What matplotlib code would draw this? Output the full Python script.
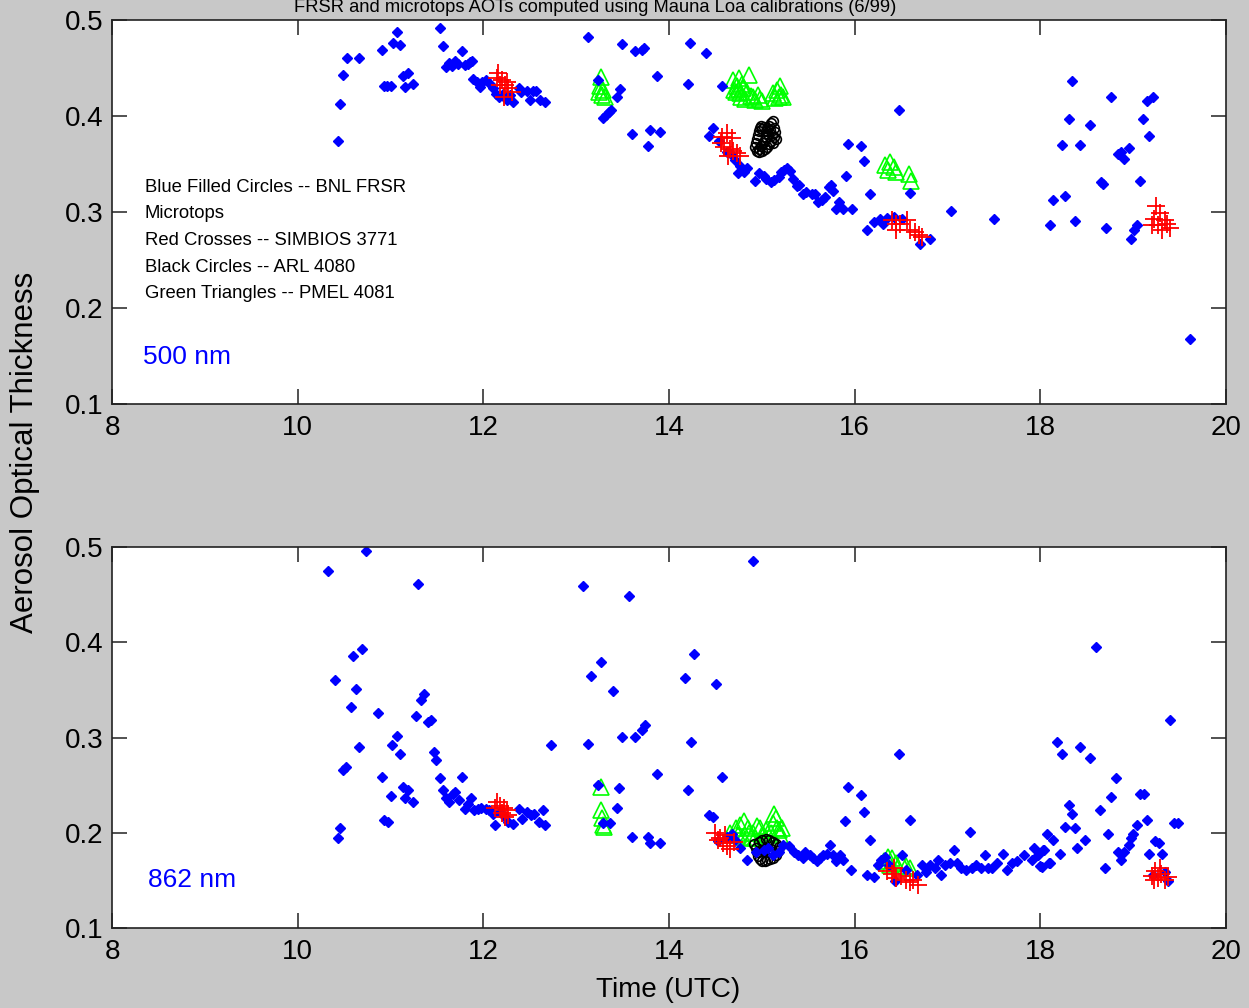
import matplotlib.pyplot as plt


# ---- 500 nm panel ----
frsr500_t = [10.43, 10.46, 10.49, 10.53, 10.66, 10.91, 10.93, 10.96, 11.00, 11.03, 11.07, 11.10,
             11.13, 11.16, 11.19, 11.24, 11.53, 11.57, 11.60, 11.63, 11.66, 11.70, 11.73, 11.77,
             11.80, 11.83, 11.86, 11.88, 11.89, 11.93, 11.96, 11.99, 12.03, 12.07, 12.10, 12.14,
             12.17, 12.21, 12.25, 12.29, 12.32, 12.38, 12.41, 12.47, 12.50, 12.54, 12.57, 12.61,
             12.66, 13.13, 13.23, 13.29, 13.32, 13.35, 13.38, 13.44, 13.47, 13.49, 13.60, 13.63,
             13.71, 13.73, 13.77, 13.80, 13.90, 13.87, 14.21, 14.23, 14.40, 14.57, 14.47, 14.43,
             14.54, 14.62, 14.67, 14.71, 14.76, 14.74, 14.81, 14.84, 14.93, 14.97, 15.02, 15.05,
             15.10, 15.13, 15.18, 15.21, 15.24, 15.27, 15.30, 15.34, 15.38, 15.40, 15.44, 15.48,
             15.54, 15.57, 15.61, 15.65, 15.68, 15.72, 15.74, 15.77, 15.80, 15.83, 15.87, 15.91,
             15.93, 15.97, 16.07, 16.10, 16.13, 16.17, 16.21, 16.27, 16.30, 16.35, 16.42, 16.48,
             16.51, 16.60, 16.70, 16.81, 17.04, 17.50, 18.34, 18.76, 19.15, 19.21, 18.31, 18.54,
             19.11, 19.17, 18.23, 18.43, 18.84, 18.87, 18.90, 18.95, 18.65, 18.68, 19.07, 18.14,
             18.27, 18.10, 18.37, 18.71, 18.98, 19.01, 19.04, 19.61]
frsr500_aot = [0.374, 0.412, 0.443, 0.460, 0.460, 0.469, 0.431, 0.431, 0.431, 0.476, 0.487, 0.474,
               0.442, 0.430, 0.445, 0.433, 0.492, 0.473, 0.451, 0.455, 0.452, 0.457, 0.454, 0.468,
               0.453, 0.454, 0.456, 0.457, 0.439, 0.435, 0.430, 0.435, 0.437, 0.433, 0.429, 0.423,
               0.420, 0.423, 0.417, 0.422, 0.415, 0.429, 0.425, 0.426, 0.417, 0.426, 0.426, 0.417,
               0.415, 0.482, 0.437, 0.398, 0.401, 0.404, 0.406, 0.420, 0.428, 0.475, 0.381, 0.468,
               0.469, 0.471, 0.369, 0.385, 0.383, 0.442, 0.433, 0.476, 0.466, 0.431, 0.387, 0.379,
               0.374, 0.362, 0.360, 0.354, 0.348, 0.341, 0.342, 0.346, 0.332, 0.341, 0.337, 0.334,
               0.331, 0.333, 0.336, 0.342, 0.344, 0.346, 0.343, 0.334, 0.327, 0.328, 0.319, 0.321,
               0.319, 0.319, 0.310, 0.313, 0.316, 0.326, 0.328, 0.322, 0.303, 0.310, 0.303, 0.338,
               0.371, 0.303, 0.369, 0.353, 0.281, 0.319, 0.290, 0.293, 0.288, 0.294, 0.295, 0.406,
               0.293, 0.320, 0.267, 0.272, 0.301, 0.293, 0.436, 0.420, 0.416, 0.420, 0.397, 0.391,
               0.397, 0.379, 0.370, 0.370, 0.360, 0.362, 0.355, 0.367, 0.331, 0.329, 0.332, 0.312,
               0.317, 0.286, 0.291, 0.283, 0.272, 0.281, 0.286, 0.168]

simbios500_t = [12.16, 12.20, 12.23, 12.18, 12.27, 12.31, 12.22, 12.25, 12.15,
                14.57, 14.62, 14.68, 14.59, 14.66, 14.73, 14.64, 14.56, 14.76, 14.69,
                16.40, 16.44, 16.49, 16.56, 16.60, 16.65, 16.69, 16.72, 16.45,
                19.25, 19.22, 19.29, 19.34, 19.27, 19.40, 19.36, 19.20, 19.31]
simbios500_aot = [0.445, 0.437, 0.432, 0.432, 0.429, 0.425, 0.420, 0.435, 0.440,
                  0.378, 0.382, 0.377, 0.368, 0.366, 0.361, 0.358, 0.372, 0.358, 0.364,
                  0.292, 0.281, 0.288, 0.292, 0.281, 0.279, 0.276, 0.274, 0.288,
                  0.306, 0.293, 0.299, 0.292, 0.286, 0.283, 0.288, 0.286, 0.281]

arl500_t = [14.93, 14.94, 14.95, 14.96, 14.97, 14.98, 14.99, 14.95, 14.97, 14.99, 15.01, 15.03,
            15.05, 15.07, 15.00, 15.02, 15.04, 15.06, 15.08, 15.10, 15.12, 15.09, 15.11, 15.13,
            15.15, 15.12, 15.10, 15.08, 15.06, 15.03, 15.00, 14.97, 15.13, 15.14]
arl500_aot = [0.368, 0.372, 0.376, 0.380, 0.384, 0.388, 0.390, 0.364, 0.366, 0.369, 0.372, 0.375,
              0.378, 0.381, 0.386, 0.389, 0.384, 0.387, 0.390, 0.393, 0.395, 0.385, 0.380, 0.378,
              0.376, 0.372, 0.374, 0.371, 0.368, 0.366, 0.364, 0.362, 0.388, 0.383]

pmel500_t = [13.27, 13.26, 13.29, 13.28, 13.31, 13.25,
             14.69, 14.73, 14.77, 14.80, 14.86, 14.84, 14.96, 14.98, 15.12, 15.20, 15.18, 15.21,
             14.70, 14.91, 14.72, 14.75, 14.78, 14.82, 14.88, 14.93, 15.00, 15.14, 15.16, 15.23,
             14.79, 14.75,
             16.33, 16.38, 16.42, 16.36, 16.45, 16.58, 16.61]
pmel500_aot = [0.441, 0.431, 0.427, 0.422, 0.420, 0.425,
               0.437, 0.431, 0.424, 0.429, 0.443, 0.425, 0.422, 0.418, 0.424, 0.431, 0.420, 0.422,
               0.427, 0.420, 0.425, 0.428, 0.420, 0.418, 0.421, 0.417, 0.416, 0.419, 0.427, 0.420,
               0.433, 0.440,
               0.349, 0.352, 0.347, 0.344, 0.342, 0.340, 0.332]

# ---- 862 nm panel ----
frsr862_t = [10.33, 10.74, 11.30, 13.07, 13.57, 10.60, 10.69, 10.40, 10.63, 10.57, 10.86, 10.66,
             10.49, 10.52, 10.91, 11.02, 11.07, 11.10, 11.00, 11.13, 11.19, 11.16, 11.24, 10.93,
             10.97, 10.46, 10.43, 11.27, 11.33, 11.36, 11.40, 11.44, 11.47, 11.49, 11.53, 11.57,
             11.60, 11.63, 11.67, 11.70, 11.74, 11.77, 11.80, 11.83, 11.87, 11.90, 11.94, 11.98,
             12.03, 12.06, 12.10, 12.13, 12.18, 12.22, 12.27, 12.32, 12.38, 12.42, 12.47, 12.51,
             12.55, 12.60, 12.64, 12.66, 12.73, 13.13, 13.16, 13.27, 13.40, 13.49, 13.63, 13.71,
             13.74, 13.87, 13.46, 13.44, 13.24, 13.29, 13.36, 13.60, 13.77, 14.17, 14.27, 14.24,
             14.21, 13.80, 13.90, 14.51, 14.57, 14.90, 14.43, 14.47, 14.53, 14.62, 14.68, 14.71,
             14.76, 14.84, 14.94, 15.02, 15.07, 15.12, 15.18, 15.23, 15.29, 15.35, 15.39, 15.44,
             15.47, 15.52, 15.55, 15.59, 15.63, 15.66, 15.70, 15.73, 15.77, 15.80, 15.84, 15.87,
             15.90, 15.93, 15.96, 16.07, 16.10, 16.13, 16.17, 16.21, 16.25, 16.28, 16.33, 16.37,
             16.43, 16.48, 16.51, 16.55, 16.60, 16.67, 16.72, 16.77, 16.81, 16.87, 16.90, 16.93,
             16.97, 17.03, 17.07, 17.10, 17.15, 17.20, 17.24, 17.26, 17.31, 17.36, 17.40, 17.44,
             17.48, 17.53, 17.60, 17.64, 17.69, 17.75, 17.82, 17.91, 17.93, 17.98, 18.02, 18.04,
             18.07, 18.09, 18.00, 18.03, 18.60, 19.40, 18.18, 18.23, 18.43, 18.54, 18.81, 18.76,
             18.31, 18.34, 18.64, 19.07, 19.12, 18.27, 18.37, 18.14, 18.48, 18.40, 18.21, 18.10,
             18.73, 19.04, 19.15, 19.00, 18.98, 18.95, 18.90, 18.84, 18.87, 18.70, 19.24, 19.28,
             19.17, 19.31, 19.44, 19.48, 19.21, 19.34, 19.37]
frsr862_aot = [0.475, 0.496, 0.461, 0.459, 0.449, 0.386, 0.393, 0.360, 0.351, 0.332, 0.326, 0.290,
               0.266, 0.269, 0.259, 0.292, 0.302, 0.283, 0.239, 0.248, 0.245, 0.236, 0.232, 0.213,
               0.211, 0.205, 0.195, 0.323, 0.339, 0.346, 0.316, 0.318, 0.285, 0.276, 0.257, 0.245,
               0.236, 0.232, 0.241, 0.243, 0.234, 0.259, 0.225, 0.230, 0.236, 0.224, 0.225, 0.226,
               0.225, 0.224, 0.220, 0.208, 0.222, 0.218, 0.211, 0.209, 0.225, 0.214, 0.222, 0.219,
               0.220, 0.211, 0.224, 0.208, 0.292, 0.293, 0.365, 0.379, 0.349, 0.301, 0.301, 0.308,
               0.313, 0.262, 0.247, 0.226, 0.250, 0.210, 0.210, 0.196, 0.196, 0.362, 0.388, 0.295,
               0.245, 0.189, 0.189, 0.356, 0.259, 0.485, 0.219, 0.217, 0.191, 0.196, 0.199, 0.192,
               0.184, 0.171, 0.180, 0.182, 0.184, 0.177, 0.180, 0.187, 0.186, 0.180, 0.177, 0.173,
               0.180, 0.177, 0.173, 0.170, 0.173, 0.177, 0.178, 0.187, 0.177, 0.170, 0.177, 0.171,
               0.212, 0.248, 0.161, 0.240, 0.222, 0.156, 0.192, 0.154, 0.166, 0.171, 0.175, 0.166,
               0.149, 0.283, 0.177, 0.161, 0.213, 0.156, 0.166, 0.159, 0.166, 0.163, 0.171, 0.156,
               0.166, 0.168, 0.182, 0.168, 0.163, 0.161, 0.201, 0.163, 0.166, 0.163, 0.177, 0.163,
               0.163, 0.168, 0.178, 0.161, 0.168, 0.170, 0.177, 0.171, 0.184, 0.177, 0.164, 0.182,
               0.199, 0.168, 0.165, 0.182, 0.395, 0.318, 0.295, 0.283, 0.290, 0.278, 0.257, 0.238,
               0.229, 0.220, 0.224, 0.241, 0.241, 0.206, 0.205, 0.192, 0.192, 0.184, 0.178, 0.168,
               0.199, 0.208, 0.213, 0.199, 0.194, 0.187, 0.180, 0.180, 0.171, 0.163, 0.191, 0.189,
               0.178, 0.178, 0.210, 0.210, 0.156, 0.159, 0.149]

simbios862_t = [12.15, 12.18, 12.22, 12.25, 12.20, 12.27, 12.23, 12.13,
                14.50, 14.55, 14.58, 14.62, 14.66, 14.70, 14.53, 14.60,
                16.35, 16.40, 16.45, 16.50, 16.55, 16.60, 16.68, 16.63, 16.42,
                19.20, 19.24, 19.27, 19.30, 19.34, 19.37, 19.22, 19.29]
simbios862_aot = [0.232, 0.228, 0.226, 0.224, 0.221, 0.219, 0.217, 0.226,
                  0.200, 0.195, 0.189, 0.186, 0.183, 0.190, 0.192, 0.198,
                  0.160, 0.157, 0.152, 0.155, 0.150, 0.148, 0.145, 0.150, 0.163,
                  0.155, 0.160, 0.152, 0.157, 0.150, 0.154, 0.150, 0.163]

arl862_t = [14.92, 14.94, 14.95, 14.96, 14.98, 15.00, 15.03, 15.06, 15.09, 15.12, 15.15, 15.17,
            15.18, 14.97, 15.00, 15.04, 15.08, 15.12, 15.15, 15.02, 15.06, 15.10]
arl862_aot = [0.188, 0.184, 0.180, 0.176, 0.172, 0.170, 0.170, 0.171, 0.172, 0.174, 0.177, 0.181,
              0.185, 0.190, 0.192, 0.193, 0.192, 0.190, 0.188, 0.182, 0.180, 0.183]

pmel862_t = [13.27, 13.27, 13.28, 13.29, 13.30,
             14.66, 14.72, 14.77, 14.81, 14.85, 14.90, 14.95, 15.00, 15.05, 15.12, 15.15, 15.18,
             15.20, 14.88, 14.74, 14.80, 14.86, 14.93, 15.03, 15.10, 15.16, 15.22, 14.98, 15.13,
             16.32, 16.36, 16.40, 16.45, 16.50, 16.55, 16.60, 16.38]
pmel862_aot = [0.248, 0.224, 0.215, 0.208, 0.206,
               0.200, 0.205, 0.208, 0.212, 0.205, 0.200, 0.207, 0.198, 0.203, 0.210, 0.215, 0.203,
               0.198, 0.195, 0.198, 0.196, 0.200, 0.195, 0.195, 0.200, 0.205, 0.205, 0.205, 0.220,
               0.170, 0.175, 0.173, 0.168, 0.170, 0.165, 0.163, 0.166]

TITLE = "FRSR and microtops AOTs computed using Mauna Loa calibrations (6/99)"
LEGEND_LINES = ["Blue Filled Circles -- BNL FRSR",
                "Microtops",
                "Red Crosses -- SIMBIOS 3771",
                "Black Circles -- ARL 4080",
                "Green Triangles -- PMEL 4081"]

MAIN_FONT = ["Liberation Sans", "DejaVu Sans"]


def draw_panel(ax, frsr, simbios, arl, pmel):
    # draw order: triangles and circles underneath, diamonds, crosses on top
    ax.plot(*pmel, linestyle="none", marker="^", markersize=12,
            markerfacecolor="none", markeredgecolor="#00ff00", markeredgewidth=1.2)
    ax.plot(*arl, linestyle="none", marker="o", markersize=7,
            markerfacecolor="none", markeredgecolor="black", markeredgewidth=1.2)
    ax.plot(*frsr, linestyle="none", marker="D", markersize=5.5,
            color="#0000ff", markeredgecolor="#0000ff")
    ax.plot(*simbios, linestyle="none", marker="+", markersize=13,
            color="#ff0000", markeredgewidth=1.3)

    ax.set_xlim(8, 20)
    ax.set_ylim(0.1, 0.5)
    ax.set_xticks([8, 10, 12, 14, 16, 18, 20])
    ax.set_yticks([0.1, 0.2, 0.3, 0.4, 0.5])
    ax.set_yticklabels(["0.1", "0.2", "0.3", "0.4", "0.5"])
    ax.tick_params(direction="in", length=11, width=1.2, labelsize=20,
                   top=True, right=True, colors="#333333", labelcolor="black")
    ax.tick_params(axis="x", pad=8)
    ax.tick_params(axis="y", pad=6)
    for label in ax.get_xticklabels() + ax.get_yticklabels():
        label.set_family(MAIN_FONT)
    for spine in ax.spines.values():
        spine.set_linewidth(1.2)
        spine.set_color("#222222")


def main():
    fig = plt.figure(figsize=(12.49, 10.08), dpi=100, facecolor="#c8c8c8")
    left, width = 112 / 1249, (1226 - 112) / 1249
    ax_top = fig.add_axes([left, 1 - 404 / 1008, width, (404 - 20) / 1008])
    ax_bot = fig.add_axes([left, 1 - 928 / 1008, width, (928 - 547) / 1008])

    draw_panel(ax_top, (frsr500_t, frsr500_aot), (simbios500_t, simbios500_aot),
               (arl500_t, arl500_aot), (pmel500_t, pmel500_aot))
    draw_panel(ax_bot, (frsr862_t, frsr862_aot), (simbios862_t, simbios862_aot),
               (arl862_t, arl862_aot), (pmel862_t, pmel862_aot))

    fig.text(595 / 1249, 1 - 8 / 1008, TITLE, ha="center", va="center",
             fontsize=13.2, family=MAIN_FONT)

    for i, line in enumerate(LEGEND_LINES):
        fig.text(145 / 1249, 1 - (187 + 26.7 * i) / 1008, line,
                 ha="left", va="center", fontsize=13.3, family=MAIN_FONT)

    fig.text(143 / 1249, 1 - 357 / 1008, "500 nm", color="#0000ff",
             ha="left", va="center", fontsize=19, family=MAIN_FONT)
    fig.text(148 / 1249, 1 - 880 / 1008, "862 nm", color="#0000ff",
             ha="left", va="center", fontsize=19, family=MAIN_FONT)

    fig.text(25 / 1249, 1 - 452 / 1008, "Aerosol Optical Thickness", rotation=90,
             ha="center", va="center", fontsize=22.5, family=MAIN_FONT)
    fig.text(668 / 1249, 1 - 990 / 1008, "Time (UTC)",
             ha="center", va="center", fontsize=20, family=MAIN_FONT)

    fig.savefig("out.png", dpi=100, facecolor=fig.get_facecolor())


if __name__ == "__main__":
    main()
